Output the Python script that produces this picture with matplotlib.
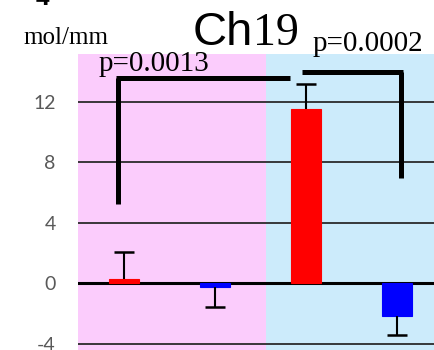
import matplotlib
matplotlib.use("Agg")
import matplotlib.pyplot as plt

# values (units: mol/mm)
groups = ["A-red", "A-blue", "B-red", "B-blue"]
means = [0.30, -0.22, 11.5, -2.19]
errors = [1.80, 1.33, 1.66, 1.23]
bar_colors = ["#FF0000", "#0000FF", "#FF0000", "#0000FF"]
yticks = [-4, 0, 4, 8, 12]

# significance brackets: (x_start, x_end, top, drop_end) ; label
bracket_left = (-0.085, 1.83, 13.58, 5.23)
bracket_right = (1.96, 3.07, 13.97, 6.95)
p_labels = ["p=0.0013", "p=0.0002"]

W, H = 434, 350
fig = plt.figure(figsize=(W / 100, H / 100), dpi=100)
ax = fig.add_axes([78 / W, 0, 1 - 78 / W, 1 - 54.3 / H])

x = list(range(len(groups)))
ax.set_xlim(-0.5, 3.41)
ax.set_ylim(-4.41, 15.14)

# group shading
ax.axvspan(-0.5, 1.56, color="#FBCCFC", zorder=0, lw=0)
ax.axvspan(1.56, 3.6, color="#CCEBFB", zorder=0, lw=0)

for t in yticks:
    ax.axhline(t, color="black" if t == 0 else "#2b2b2b",
               lw=2.2 if t == 0 else 1.3, zorder=1)

ax.bar(x, means, width=0.33, color=bar_colors, edgecolor=bar_colors,
       lw=0.8, zorder=2)

# one-sided error bars (away from zero), cap only at the far end
for xi, m, e in zip(x, means, errors):
    if m >= 0:
        yerr = [[0], [e]]
    else:
        yerr = [[e], [0]]
    _, caps, _ = ax.errorbar(xi, m, yerr=yerr, fmt="none", ecolor="black",
                             elinewidth=1.5, capsize=7.2, capthick=1.8,
                             zorder=3)
    # caps[0] is the lower cap, caps[1] the upper one
    caps[0 if m >= 0 else 1].set_visible(False)

# brackets
x0, x1, top, drop = bracket_left
ax.plot([x0 + 0.025, x0 + 0.025], [drop, top], color="black", lw=3.6,
        solid_capstyle="butt", zorder=4, clip_on=False)
ax.plot([x0, x1], [top, top], color="black", lw=3.6,
        solid_capstyle="butt", zorder=4, clip_on=False)
x0, x1, top, drop = bracket_right
ax.plot([x0, x1], [top, top], color="black", lw=3.6,
        solid_capstyle="butt", zorder=4, clip_on=False)
ax.plot([x1 - 0.025, x1 - 0.025], [drop, top], color="black", lw=3.6,
        solid_capstyle="butt", zorder=4, clip_on=False)

ax.set_xticks([])
ax.set_yticks(yticks)
ax.set_yticklabels([str(t) for t in yticks], family="Lato", fontsize=14,
                   color="#595959")
ax.tick_params(axis="y", length=0, pad=16)
for s in ax.spines.values():
    s.set_visible(False)


def px(xp, yp):
    return xp / W, 1 - yp / H


serif = "Liberation Serif"
fig.text(*px(23, 44), "mol/mm", family=serif, fontsize=18, va="baseline")
fig.text(*px(193, 45), "Ch", family="Liberation Sans", fontsize=34,
         va="baseline")
fig.text(*px(299, 45), "19", family=serif, fontsize=33, va="baseline",
         ha="right")
fig.text(*px(99, 71), p_labels[0], family=serif, fontsize=21, va="baseline")
fig.text(*px(313, 51), p_labels[1], family=serif, fontsize=21, va="baseline")
# bottom of a cut-off label above the frame
fig.text(*px(43, 5), "4", family=serif, fontsize=20, va="baseline",
         ha="center", fontweight="bold")

fig.savefig("out.png", dpi=100)
